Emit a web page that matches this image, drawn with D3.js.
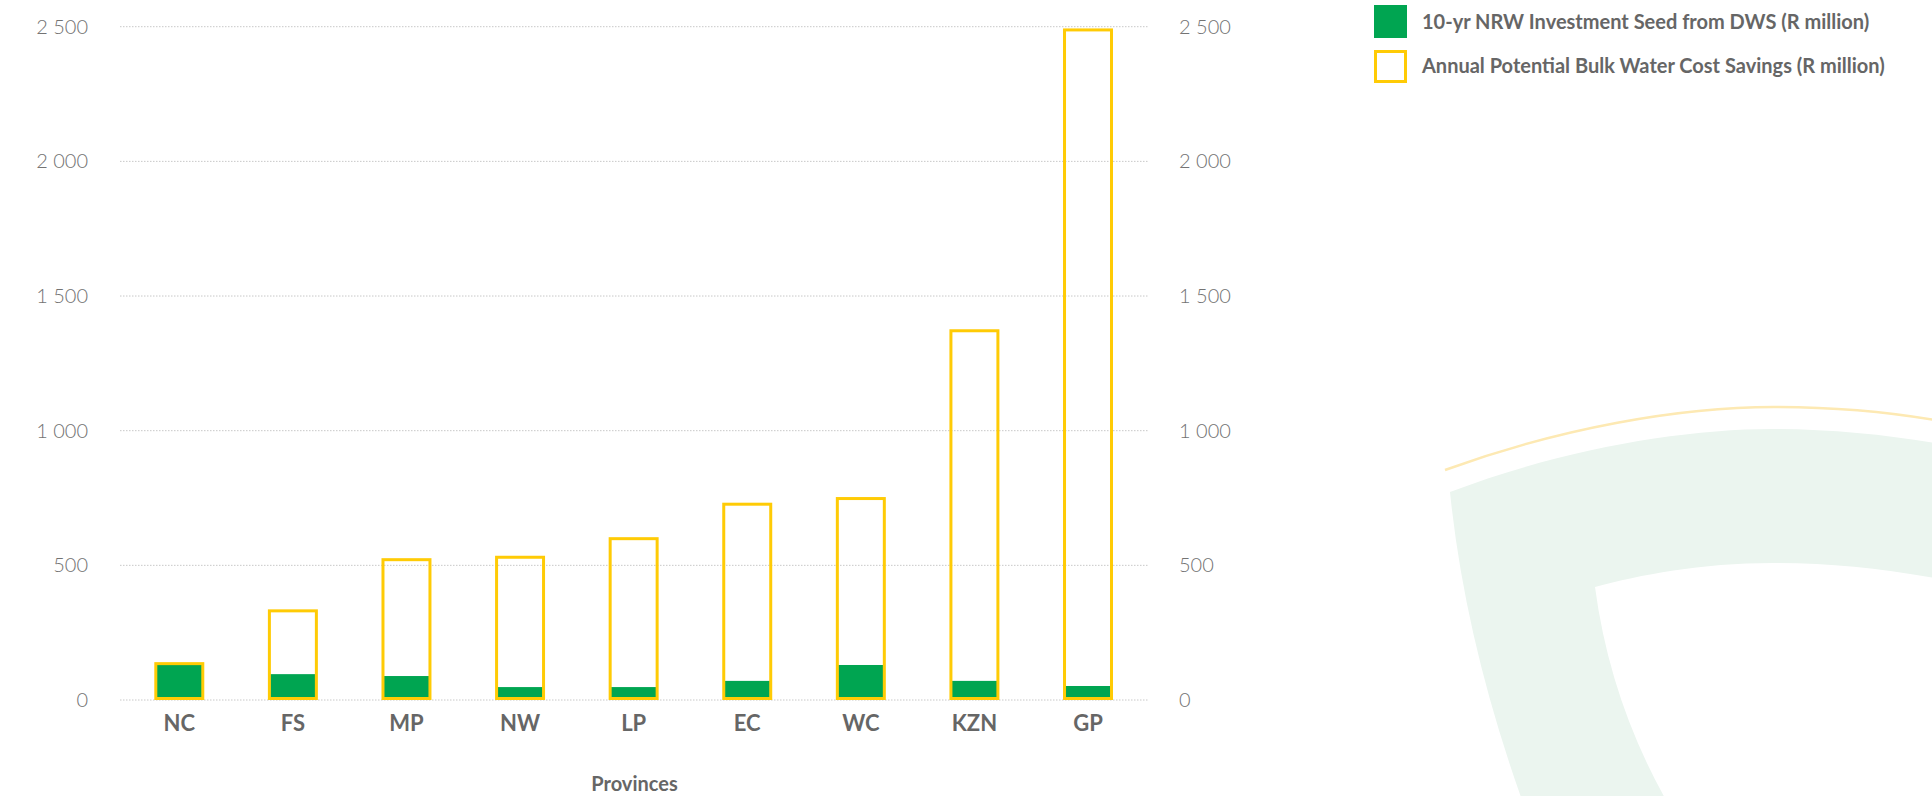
<!DOCTYPE html>
<html>
<head>
<meta charset="utf-8">
<script src="https://cdn.jsdelivr.net/npm/d3@7"></script>
<style>
  html, body { margin: 0; padding: 0; background: #ffffff; }
  svg { display: block; }
  text { font-family: Lato, "Open Sans", sans-serif; }
</style>
</head>
<body>
<svg id="chart" width="1932" height="796"></svg>
<script>
// ---- data ----
const categories = ["NC", "FS", "MP", "NW", "LP", "EC", "WC", "KZN", "GP"];
const investmentSeed = [131, 96, 89, 48, 48, 71, 130, 71, 52];          // 10-yr NRW Investment Seed from DWS (R million)
const bulkWaterSavings = [135, 331, 521, 530, 599, 727, 748, 1371, 2488]; // Annual Potential Bulk Water Cost Savings (R million)
const yTicks = [0, 500, 1000, 1500, 2000, 2500];
const seriesNames = [
  "10-yr NRW Investment Seed from DWS (R million)",
  "Annual Potential Bulk Water Cost Savings (R million)"
];
const xAxisTitle = "Provinces";

// ---- styles ----
const GREEN = "#00a551";
const YELLOW = "#ffcb05";
const TEXT = "#666666";
const TICK_TEXT = "#737373";

const svg = d3.select("#chart");

// ---- background decoration ----
const deco = svg.append("g");
deco.append("path")
  .attr("d", "M1450,492 C1560,450 1680,429 1773,429 C1830,429 1890,435 1940,444 L1940,579 C1880,568 1830,563 1773,563 C1700,563 1640,575 1595,587 Q1610,700 1666,800 L1522,800 Q1465,640 1450,492 Z")
  .attr("fill", "#ebf5ef");
deco.append("path")
  .attr("d", "M1445,470 C1560,428 1680,407 1774,407 C1840,407 1890,412 1940,421")
  .attr("fill", "none")
  .attr("stroke", "#fde9b3")
  .attr("stroke-width", 2.5);

// ---- scales ----
const x = d3.scaleBand()
  .domain(categories)
  .range([122.5, 1144.8])
  .paddingInner(0.56)
  .paddingOuter(0.28);

const y = d3.scaleLinear()
  .domain([0, 2500])
  .range([700, 26.7]);

const fmt = v => d3.format(",")(v).replace(/,/g, " ");

// ---- grid ----
const gridLeft = 120, gridRight = 1149;
svg.append("g")
  .selectAll("line")
  .data(yTicks)
  .join("line")
  .attr("x1", gridLeft).attr("x2", gridRight)
  .attr("y1", d => y(d)).attr("y2", d => y(d))
  .attr("stroke", "#c8c8c8")
  .attr("stroke-width", 1)
  .attr("stroke-dasharray", "1.5,1.5");

// ---- left & right axes (labels only) ----
const leftAxis = svg.append("g").attr("transform", `translate(${gridLeft},0)`)
  .call(d3.axisLeft(y).tickValues(yTicks).tickFormat(fmt).tickSize(0).tickPadding(32));
const rightAxis = svg.append("g").attr("transform", `translate(${gridRight},0)`)
  .call(d3.axisRight(y).tickValues(yTicks).tickFormat(fmt).tickSize(0).tickPadding(30));
[leftAxis, rightAxis].forEach(a => {
  a.select(".domain").remove();
  a.selectAll("text")
    .attr("fill", TICK_TEXT)
    .style("font-size", "20px")
    .style("font-weight", 300)
    .style("font-family", "Lato, sans-serif");
});

// ---- bars ----
const bars = svg.append("g");
// green (investment) bars
bars.selectAll("rect.seed")
  .data(categories)
  .join("rect")
  .attr("class", "seed")
  .attr("x", d => x(d) + 2.3)
  .attr("width", x.bandwidth() - 4.6)
  .attr("y", (d, i) => y(investmentSeed[i]))
  .attr("height", (d, i) => y(0) - y(investmentSeed[i]))
  .attr("fill", GREEN);
// yellow outlined (savings) bars
bars.selectAll("rect.savings")
  .data(categories)
  .join("rect")
  .attr("class", "savings")
  .attr("x", d => x(d) + 1.5)
  .attr("width", x.bandwidth() - 3)
  .attr("y", (d, i) => y(bulkWaterSavings[i]))
  .attr("height", (d, i) => y(0) - y(bulkWaterSavings[i]) - 1.5)
  .attr("fill", "none")
  .attr("stroke", YELLOW)
  .attr("stroke-width", 3);

// ---- x axis labels ----
const xAxis = svg.append("g").attr("transform", "translate(0,700)")
  .call(d3.axisBottom(x).tickSize(0).tickPadding(15));
xAxis.select(".domain").remove();
xAxis.selectAll("text")
  .attr("fill", TEXT)
  .style("font-size", "22px")
  .style("font-weight", 700)
  .style("font-family", "Lato, sans-serif");

svg.append("text")
  .attr("x", (gridLeft + gridRight) / 2)
  .attr("y", 791)
  .attr("text-anchor", "middle")
  .attr("fill", TEXT)
  .style("font-size", "20px")
  .style("font-weight", 700)
  .text(xAxisTitle);

// ---- legend ----
const legend = svg.append("g").attr("transform", "translate(1374,5)");
legend.append("rect")
  .attr("x", 0).attr("y", 0).attr("width", 33).attr("height", 33)
  .attr("fill", GREEN);
legend.append("rect")
  .attr("x", 1.5).attr("y", 46.5).attr("width", 30).attr("height", 30)
  .attr("fill", "#ffffff").attr("stroke", YELLOW).attr("stroke-width", 3);
legend.selectAll("text.lg")
  .data(seriesNames)
  .join("text")
  .attr("class", "lg")
  .attr("x", 48)
  .attr("y", (d, i) => 17 + i * 44)
  .attr("dy", "0.35em")
  .attr("fill", TEXT)
  .style("font-size", "20px")
  .style("font-weight", 700)
  .text(d => d);
</script>
</body>
</html>
